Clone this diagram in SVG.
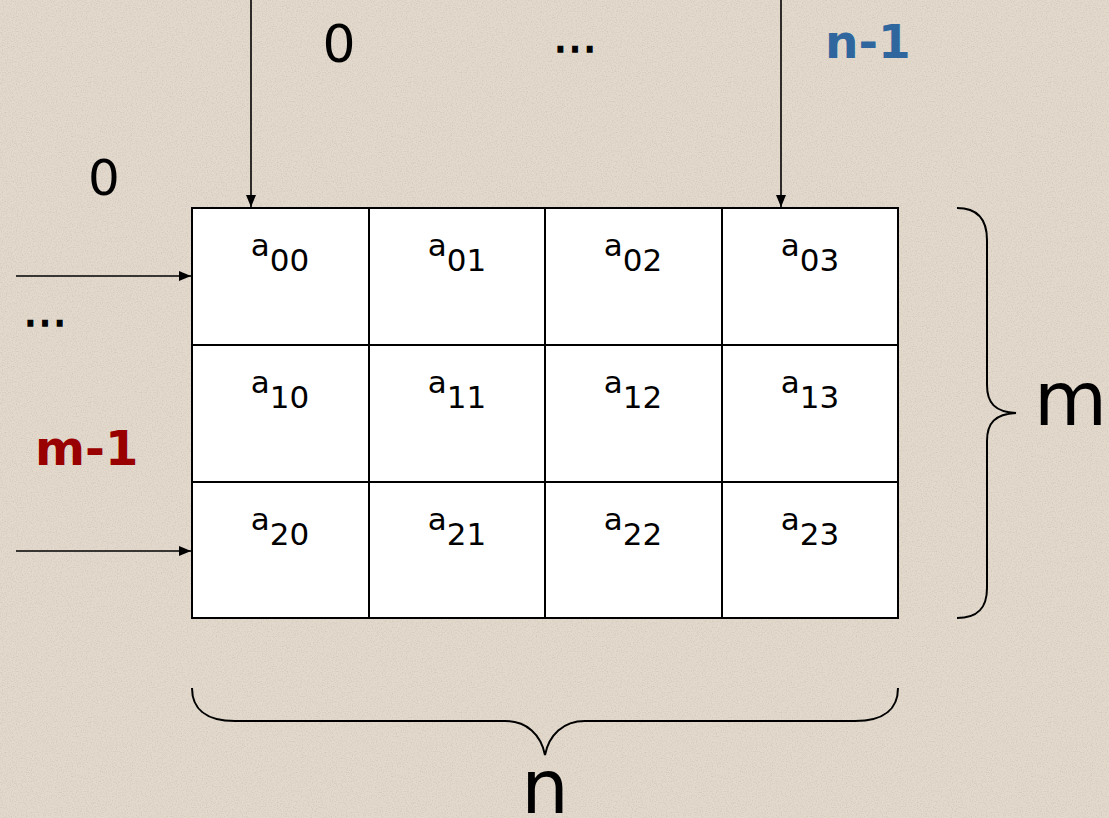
<svg xmlns="http://www.w3.org/2000/svg" width="1109" height="818" viewBox="0 0 1109 818">
<style>
.cell{fill:#ffffff;stroke:#000;stroke-width:2}
.lbl{font-family:"DejaVu Sans","Verdana",sans-serif;font-size:31px;fill:#000;text-anchor:middle}
.big{font-family:"DejaVu Sans","Verdana",sans-serif;fill:#000}
.bold{font-family:"DejaVu Sans","Verdana",sans-serif;font-weight:bold}
.dots{font-family:"DejaVu Sans","Verdana",sans-serif;font-size:44px;fill:#000;stroke:#000;stroke-width:1.3;text-anchor:middle}
.conn{stroke:#000;stroke-width:1.6;fill:none}
.brace{stroke:#000;stroke-width:2;fill:none}
</style>
<defs>
<marker id="ah" markerWidth="12" markerHeight="10" refX="12" refY="5" orient="auto" markerUnits="userSpaceOnUse">
<path d="M0,0 L12,5 L0,10 Z" fill="#000"/>
</marker>
<filter id="noise" x="0" y="0" width="100%" height="100%">
<feTurbulence type="fractalNoise" baseFrequency="0.8" numOctaves="2" seed="3"/>
<feColorMatrix type="matrix" values="0 0 0 0 0.45  0 0 0 0 0.4  0 0 0 0 0.33  0 0 0 -2.2 1.25"/>
</filter>
</defs>
<rect x="0" y="0" width="1109" height="818" fill="#e3dacd"/>
<rect x="0" y="0" width="1109" height="818" filter="url(#noise)" opacity="0.35"/>

<g id="connectors">
<line class="conn" x1="251" y1="0" x2="251" y2="207" marker-end="url(#ah)"/>
<line class="conn" x1="781" y1="0" x2="781" y2="207" marker-end="url(#ah)"/>
<line class="conn" x1="16" y1="276" x2="191" y2="276" marker-end="url(#ah)"/>
<line class="conn" x1="16" y1="551" x2="191" y2="551" marker-end="url(#ah)"/>
</g>

<g id="grid">
<g id="c00"><rect class="cell" x="192" y="208" width="177" height="137"/><text class="lbl" x="280" y="256">a<tspan dy="15">00</tspan></text></g>
<g id="c01"><rect class="cell" x="369" y="208" width="176" height="137"/><text class="lbl" x="457" y="256">a<tspan dy="15">01</tspan></text></g>
<g id="c02"><rect class="cell" x="545" y="208" width="177" height="137"/><text class="lbl" x="633" y="256">a<tspan dy="15">02</tspan></text></g>
<g id="c03"><rect class="cell" x="722" y="208" width="176" height="137"/><text class="lbl" x="810" y="256">a<tspan dy="15">03</tspan></text></g>
<g id="c10"><rect class="cell" x="192" y="345" width="177" height="137"/><text class="lbl" x="280" y="393">a<tspan dy="15">10</tspan></text></g>
<g id="c11"><rect class="cell" x="369" y="345" width="176" height="137"/><text class="lbl" x="457" y="393">a<tspan dy="15">11</tspan></text></g>
<g id="c12"><rect class="cell" x="545" y="345" width="177" height="137"/><text class="lbl" x="633" y="393">a<tspan dy="15">12</tspan></text></g>
<g id="c13"><rect class="cell" x="722" y="345" width="176" height="137"/><text class="lbl" x="810" y="393">a<tspan dy="15">13</tspan></text></g>
<g id="c20"><rect class="cell" x="192" y="482" width="177" height="136"/><text class="lbl" x="280" y="530">a<tspan dy="15">20</tspan></text></g>
<g id="c21"><rect class="cell" x="369" y="482" width="176" height="136"/><text class="lbl" x="457" y="530">a<tspan dy="15">21</tspan></text></g>
<g id="c22"><rect class="cell" x="545" y="482" width="177" height="136"/><text class="lbl" x="633" y="530">a<tspan dy="15">22</tspan></text></g>
<g id="c23"><rect class="cell" x="722" y="482" width="176" height="136"/><text class="lbl" x="810" y="530">a<tspan dy="15">23</tspan></text></g>
</g>

<g id="labels">
<text class="big" x="339" y="62" font-size="52" text-anchor="middle">0</text>
<text class="dots" x="575" y="52">…</text>
<text class="bold" x="825" y="58" font-size="47" fill="#2f669e">n-1</text>
<text class="big" x="104" y="195" font-size="50" text-anchor="middle">0</text>
<text class="dots" x="45" y="326">…</text>
<text class="bold" x="35" y="465" font-size="48" fill="#990000">m-1</text>
<text class="big" x="1034" y="425" font-size="75">m</text>
<text class="big" x="545" y="813" font-size="75" text-anchor="middle">n</text>
</g>

<g id="braces">
<path class="brace" d="M957,208 C978,208 987,220 987,240 L987,385 C987,403 995,412 1016,413 C995,414 987,423 987,441 L987,588 C987,608 978,618 957,618"/>
<path class="brace" d="M192,688 C192,708 205,721 235,721 L505,721 C527,721 541,735 545,755 C549,735 563,721 585,721 L855,721 C885,721 898,708 898,688"/>
</g>
</svg>
